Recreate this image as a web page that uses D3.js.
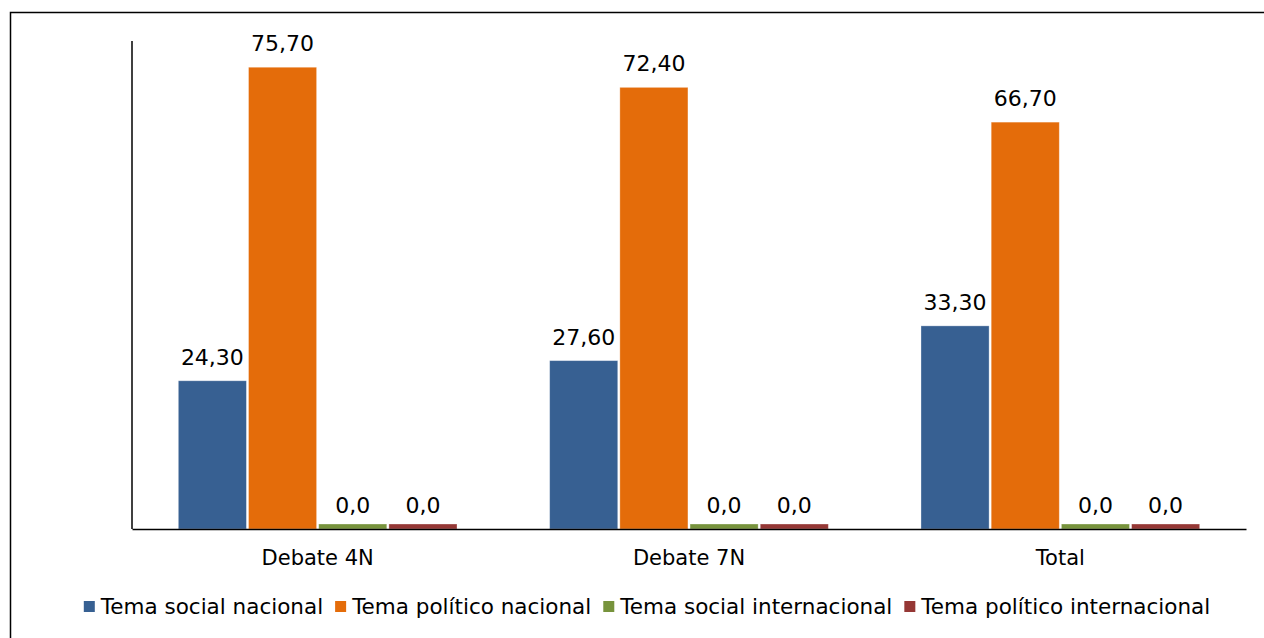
<!DOCTYPE html>
<html>
<head>
    <meta charset="utf-8">
    <script src="https://d3js.org/d3.v7.min.js"></script>
    <style>
        body { margin: 0; background: #fff; }
        svg text { font-family: "DejaVu Sans", Verdana, sans-serif; fill: #000; }
    </style>
</head>
<body>
    <div id="chart"></div>

    <script>
        // Chart data
        var categories = ["Debate 4N", "Debate 7N", "Total"];
        var seriesNames = ["Tema social nacional", "Tema político nacional", "Tema social internacional", "Tema político internacional"];
        var socialNacional = [24.3, 27.6, 33.3];
        var politicoNacional = [75.7, 72.4, 66.7];
        var socialInternacional = [0, 0, 0];
        var politicoInternacional = [0, 0, 0];
        var valueLabels = [
            ["24,30", "75,70", "0,0", "0,0"],
            ["27,60", "72,40", "0,0", "0,0"],
            ["33,30", "66,70", "0,0", "0,0"]
        ];
        var colors = ["#376092", "#E46C0A", "#77933C", "#953735"];

        var seriesValues = [socialNacional, politicoNacional, socialInternacional, politicoInternacional];

        var data = categories.map(function(cat, i) {
            return {
                category: cat,
                values: seriesNames.map(function(name, j) {
                    return { series: name, value: seriesValues[j][i], label: valueLabels[i][j], color: colors[j] };
                })
            };
        });

        var width = 1264, height = 638;
        var plotLeft = 132, plotRight = 1246, plotTop = 41, plotBottom = 529;

        var svg = d3.select("#chart")
            .append("svg")
            .attr("width", width)
            .attr("height", height);

        // outer border
        svg.append("rect")
            .attr("x", 10.5)
            .attr("y", 12.5)
            .attr("width", width)
            .attr("height", height)
            .attr("fill", "none")
            .attr("stroke", "#000")
            .attr("stroke-width", 1.5);

        var x0 = d3.scaleBand()
            .domain(categories)
            .range([plotLeft, plotRight])
            .padding(0);

        var x1 = d3.scaleBand()
            .domain(seriesNames)
            .range([0, x0.bandwidth()])
            .paddingInner(0.03)
            .paddingOuter(0.66);

        var y = d3.scaleLinear()
            .domain([0, 80])
            .range([plotBottom, plotTop]);

        var groups = svg.selectAll(".group")
            .data(data)
            .enter().append("g")
            .attr("class", "group")
            .attr("transform", function(d) { return "translate(" + x0(d.category) + ",0)"; });

        // zero values still get a small stub like in the original
        var minH = 5;
        groups.selectAll("rect")
            .data(function(d) { return d.values; })
            .enter().append("rect")
            .attr("x", function(d) { return x1(d.series); })
            .attr("width", x1.bandwidth())
            .attr("y", function(d) { return Math.min(y(d.value), y(0) - minH); })
            .attr("height", function(d) { return Math.max(y(0) - y(d.value), minH); })
            .attr("fill", function(d) { return d.color; })
            .attr("stroke", "rgba(255,255,255,0.4)")
            .attr("stroke-width", 0.8);

        groups.selectAll(".val")
            .data(function(d) { return d.values; })
            .enter().append("text")
            .attr("class", "val")
            .attr("x", function(d) { return x1(d.series) + x1.bandwidth() / 2; })
            .attr("y", function(d) { return y(d.value) - 16; })
            .attr("text-anchor", "middle")
            .style("font-size", "22px")
            .text(function(d) { return d.label; });

        // axes
        svg.append("line")
            .attr("x1", plotLeft).attr("x2", plotLeft)
            .attr("y1", plotTop).attr("y2", plotBottom)
            .attr("stroke", "#000").attr("stroke-width", 1.5);

        var xAxis = svg.append("g")
            .attr("transform", "translate(0," + plotBottom + ")")
            .call(d3.axisBottom(x0).tickSize(0).tickPadding(21));
        xAxis.select(".domain").attr("stroke", "#000").attr("stroke-width", 1.5);
        xAxis.selectAll("text")
            .style("font-size", "21px")
            .style("font-family", "'DejaVu Sans', Verdana, sans-serif")
            .attr("fill", "#000");

        // legend
        var legend = svg.append("g");
        var lx = 0;
        seriesNames.forEach(function(name, i) {
            var item = legend.append("g").attr("transform", "translate(" + lx + ",0)");
            item.append("rect")
                .attr("x", 0).attr("y", -5)
                .attr("width", 11).attr("height", 11)
                .attr("fill", colors[i]);
            var t = item.append("text")
                .attr("x", 17).attr("y", 8)
                .style("font-size", "21.5px")
                .text(name);
            lx += 17 + t.node().getComputedTextLength() + 12;
        });
        var legendWidth = lx - 12;
        legend.attr("transform", "translate(" + (647 - legendWidth / 2) + ",606)");
    </script>
</body>
</html>
